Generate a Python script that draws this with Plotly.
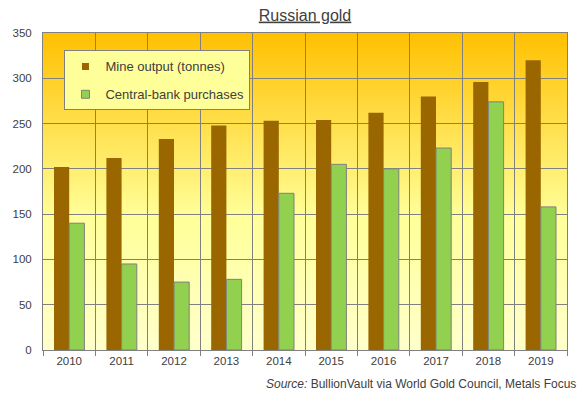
import base64
import plotly.graph_objects as go

years = ["2010", "2011", "2012", "2013", "2014", "2015", "2016", "2017", "2018", "2019"]
mine_output = [202, 212, 233, 248, 253, 254, 262, 280, 296, 320]
cb_purchases = [140, 95, 75, 78, 173, 205, 200, 223, 274, 158]
y_ticks = [0, 50, 100, 150, 200, 250, 300, 350]

W, H = 583, 399
L, R, T, B = 43, 16, 33, 49
FONT = "Liberation Sans, Arial, sans-serif"
TXT = "#404040"
GRID = "#808080"
BROWN = "#996600"
GREEN = "#92D050"

svg = (
    '<svg xmlns="http://www.w3.org/2000/svg" width="100" height="100" preserveAspectRatio="none">'
    '<defs><linearGradient id="g" x1="0" y1="0" x2="0" y2="1">'
    '<stop offset="0" stop-color="#FFC000"/>'
    '<stop offset="0.58" stop-color="#FFFF99"/>'
    '<stop offset="1" stop-color="#FFFFCC"/>'
    '</linearGradient></defs>'
    '<rect width="100" height="100" fill="url(#g)"/></svg>'
)
bg_src = "data:image/svg+xml;base64," + base64.b64encode(svg.encode()).decode()

fig = go.Figure()
fig.add_trace(go.Bar(
    x=years, y=mine_output, name="Mine output (tonnes)",
    marker=dict(color=BROWN, line=dict(width=0)),
    showlegend=False,
))
fig.add_trace(go.Bar(
    x=years, y=cb_purchases, name="Central-bank purchases",
    marker=dict(color=GREEN, line=dict(color=GRID, width=1)),
    showlegend=False,
))
# legend entries with small square keys
fig.add_trace(go.Scatter(
    x=[None], y=[None], mode="markers", name="Mine output (tonnes)",
    marker=dict(symbol="square", size=7, color=BROWN, line=dict(width=0)),
    legendgroup="a",
))
fig.add_trace(go.Scatter(
    x=[None], y=[None], mode="markers", name="Central-bank purchases",
    marker=dict(symbol="square", size=8, color=GREEN, line=dict(color=GRID, width=1)),
    legendgroup="b",
))

fig.update_layout(
    width=W, height=H,
    margin=dict(l=L, r=R, t=T, b=B, pad=0),
    paper_bgcolor="white",
    plot_bgcolor="rgba(0,0,0,0)",
    barmode="group",
    bargap=0.42,
    bargroupgap=0,
    font=dict(family=FONT, color=TXT, size=12),
    title=dict(
        text="<u>Russian gold</u>",
        font=dict(family=FONT, size=16, color=TXT),
        x=(L + (W - R)) / 2 / W, xanchor="center",
        xref="container", yref="container",
        y=1 - 15 / H, yanchor="middle",
    ),
    legend=dict(
        x=0.041, y=0.945, xanchor="left", yanchor="top",
        bgcolor="#FFFF99", bordercolor=GRID, borderwidth=1,
        font=dict(family=FONT, size=13, color=TXT),
        traceorder="grouped", tracegroupgap=8,
        itemwidth=30,
    ),
    images=[dict(
        source=bg_src, xref="paper", yref="paper", x=0, y=1,
        sizex=1, sizey=1, sizing="stretch", xanchor="left", yanchor="top",
        layer="below",
    )],
    xaxis=dict(
        type="category",
        tickson="boundaries",
        showgrid=True, gridcolor=GRID, gridwidth=1,
        ticks="outside", ticklen=5, tickcolor=GRID,
        showline=True, linecolor=GRID, linewidth=1, mirror=True,
        tickfont=dict(family=FONT, size=11.5, color=TXT),
        range=[-0.5, 9.5],
    ),
    yaxis=dict(
        range=[0, 350], tickvals=y_ticks,
        showgrid=True, gridcolor=GRID, gridwidth=1,
        showline=True, linecolor=GRID, linewidth=1, mirror=True,
        zeroline=False,
        ticks="", ticklabelstandoff=8,
        tickfont=dict(family=FONT, size=11.5, color=TXT),
    ),
    annotations=[dict(
        text="<i>Source:</i> BullionVault via World Gold Council, Metals Focus",
        xref="paper", yref="paper",
        x=(578 - L) / (W - L - R), y=-(384 - (H - B)) / (H - T - B),
        xanchor="right", yanchor="middle", showarrow=False,
        font=dict(family=FONT, size=12, color=TXT),
    )],
)

fig.write_html(
    "out.html",
    config={"displayModeBar": False},
    post_script="document.body.style.margin='0';document.body.style.padding='0';",
)
